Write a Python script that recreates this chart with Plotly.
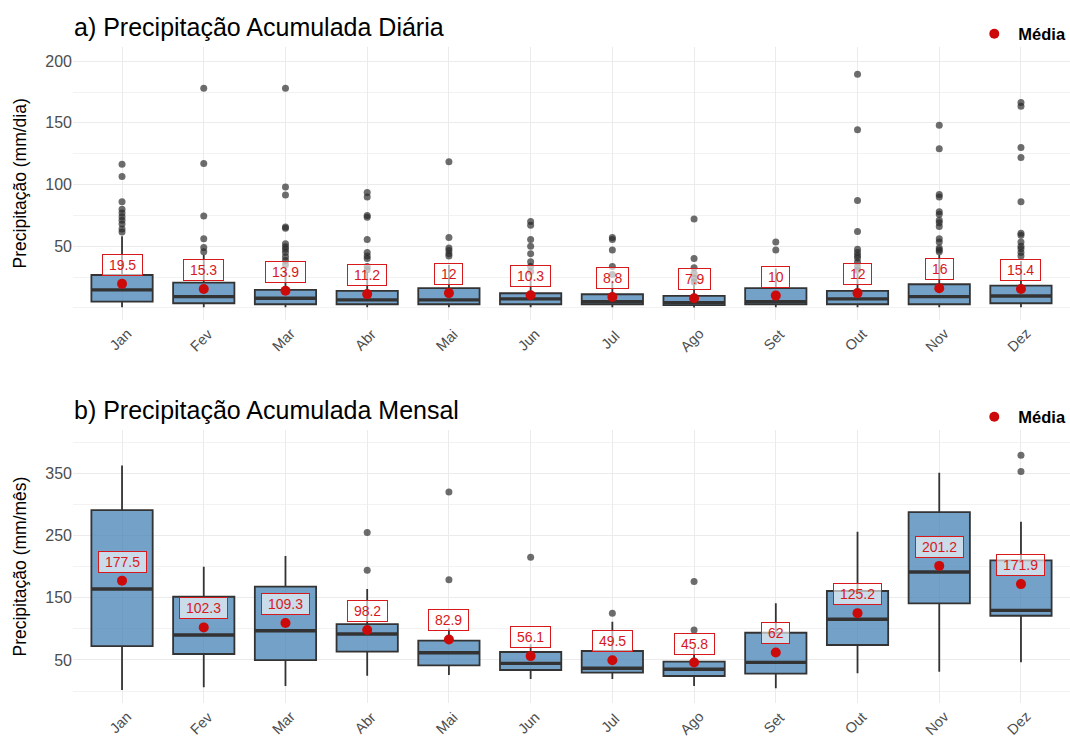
import plotly.graph_objects as go

months = ["Jan", "Fev", "Mar", "Abr", "Mai", "Jun", "Jul", "Ago", "Set", "Out", "Nov", "Dez"]

# a) precipitação diária (mm/dia) - estatísticas do boxplot
d_q1 = [5.1, 3.8, 3.0, 3.0, 3.0, 3.0, 3.0, 2.2, 3.0, 3.0, 3.0, 3.8]
d_med = [14.6, 9.2, 7.9, 6.5, 6.5, 7.3, 5.1, 4.3, 5.1, 7.3, 9.2, 9.7]
d_q3 = [26.7, 20.5, 14.6, 13.8, 16.0, 11.9, 11.1, 9.7, 16.0, 13.8, 19.2, 18.0]
d_lo = [0.6, 0.5, 0.5, 0.5, 0.5, 0.5, 0.5, 0.4, 0.5, 0.5, 0.5, 0.6]
d_hi = [58.0, 43.0, 31.0, 29.0, 35.0, 25.0, 22.0, 19.0, 32.0, 28.0, 43.0, 38.0]
d_mean = [19.5, 15.3, 13.9, 11.2, 12, 10.3, 8.8, 7.9, 10, 12, 16, 15.4]
d_out = [
    [116.5, 106.5, 86, 80, 77, 74, 71, 68, 64, 61.5],
    [178, 117, 74.5, 56, 49, 45.5],
    [178, 98, 91.5, 65.5, 64.5, 52, 49.5, 47.5, 45, 41.5, 38.5, 35],
    [93.5, 90, 75, 73.5, 55.5, 45, 42, 40, 33.5, 31],
    [118.5, 57, 48.5, 46.5, 44, 42],
    [70, 67, 55.5, 50, 44, 37.5, 33.5, 29.5],
    [57, 55.5, 47, 33.5, 27],
    [72, 40, 32.5, 28, 24, 21],
    [53.5, 47],
    [189.5, 144.5, 87, 62, 47.5, 45, 42.5, 40.5, 37, 33.5, 30.5],
    [148, 129, 92, 90, 78, 76, 71, 69, 66, 56, 53.5, 48.5, 47, 45.5],
    [166.5, 163.5, 130, 122, 86, 60.5, 59, 53.5, 50, 48, 45, 42],
]

# b) precipitação mensal (mm/mês)
m_q1 = [72.3, 59.5, 49.8, 63.2, 41.3, 33.8, 29.4, 24.1, 27.8, 74.0, 141.0, 121.0]
m_med = [164.0, 90.0, 97.0, 91.6, 61.6, 44.5, 36.5, 34.9, 46.1, 115.3, 191.3, 129.7]
m_q3 = [291.0, 151.6, 167.7, 107.7, 80.9, 62.7, 64.3, 47.1, 93.7, 160.8, 287.8, 210.1]
m_lo = [1.6, 6.0, 8.0, 24.6, 25.7, 19.3, 19.3, 8.0, 4.3, 28.4, 31.0, 46.1]
m_hi = [362.8, 199.8, 217.0, 164.0, 101.0, 75.0, 111.4, 68.0, 141.0, 256.0, 351.0, 272.2]
m_mean = [177.5, 102.3, 109.3, 98.2, 82.9, 56.1, 49.5, 45.8, 62, 125.2, 201.2, 171.9]
m_out = [[], [], [], [255, 194], [320, 179], [215], [125], [176, 98], [], [], [], [379, 353]]

FONT = "Liberation Sans, Arial, sans-serif"
BOX_W = 0.75
RED = "#CC0A0A"
pos = list(range(len(months)))

fig = go.Figure()


def add_panel(xa, ya, q1, med, q3, lo, hi, means, outs, leg, ybottom, ytop, ytitle):
    fig.add_trace(go.Box(
        x=pos, q1=q1, median=med, q3=q3, lowerfence=lo, upperfence=hi,
        width=BOX_W, whiskerwidth=0, boxpoints=False,
        fillcolor="rgba(70,130,180,0.75)", line=dict(color="#333333", width=1.8),
        xaxis=xa, yaxis=ya, showlegend=False, hoverinfo="skip",
    ))
    # median mais grossa, como no ggplot
    mx, my = [], []
    for i, m in zip(pos, med):
        mx += [i - BOX_W / 2, i + BOX_W / 2, None]
        my += [m, m, None]
    fig.add_trace(go.Scatter(x=mx, y=my, mode="lines", line=dict(color="#333333", width=3.4),
                             xaxis=xa, yaxis=ya, showlegend=False, hoverinfo="skip"))
    ox, oy = [], []
    for i, vals in zip(pos, outs):
        ox += [i] * len(vals)
        oy += vals
    fig.add_trace(go.Scatter(x=ox, y=oy, mode="markers",
                             marker=dict(color="rgba(40,40,40,0.68)", size=7),
                             xaxis=xa, yaxis=ya, showlegend=False, hoverinfo="skip"))
    fig.add_trace(go.Scatter(x=pos, y=means, mode="markers", name="Média",
                             marker=dict(color=RED, size=10),
                             xaxis=xa, yaxis=ya, legend=leg, showlegend=True))
    for i, v in zip(pos, means):
        fig.add_annotation(x=i, y=v, xref=xa, yref=ya, yshift=19,
                           text="\u00a0" + f"{v:g}" + "\u00a0", showarrow=False,
                           font=dict(family=FONT, size=14, color="#D7191C"),
                           bgcolor="rgba(255,255,255,0.62)", bordercolor="#D7191C",
                           borderwidth=1, borderpad=2)
    # rótulos do eixo x centrados e inclinados
    for i, m in zip(pos, months):
        fig.add_annotation(x=i, y=ybottom, xref=xa, yref="paper", yshift=-20, xshift=-2,
                           text=m, textangle=-45, showarrow=False,
                           xanchor="center", yanchor="middle",
                           font=dict(family=FONT, size=14.5, color="#4D4D4D"))
    # título do eixo y
    fig.add_annotation(x=-0.0532, y=(ybottom + ytop) / 2,
                       xref="paper", yref="paper", text=ytitle, textangle=-90,
                       showarrow=False, xanchor="center", yanchor="middle",
                       font=dict(family=FONT, size=17.5, color="black"))


add_panel("x", "y", d_q1, d_med, d_q3, d_lo, d_hi, d_mean, d_out, "legend", 0.584, 1.0,
          "Precipitação (mm/dia)")
add_panel("x2", "y2", m_q1, m_med, m_q3, m_lo, m_hi, m_mean, m_out, "legend2", 0.0, 0.416,
          "Precipitação (mm/mês)")

xcommon = dict(tickmode="array", tickvals=pos, showticklabels=False,
               range=[-0.6, 11.6], showgrid=True, gridcolor="#EBEBEB", gridwidth=1.1,
               zeroline=False, showline=False, ticks="", automargin=False)
ycommon = dict(showgrid=True, gridcolor="#EBEBEB", gridwidth=1.1, zeroline=False,
               showline=False, ticks="", automargin=False,
               tickfont=dict(family=FONT, size=16, color="#4D4D4D"))

legend_font = dict(family=FONT, size=16.5, color="black", weight="bold")

fig.update_layout(
    width=1070, height=738,
    paper_bgcolor="white", plot_bgcolor="white",
    margin=dict(l=73, r=0, t=47, b=35, autoexpand=False),
    font=dict(family=FONT),
    xaxis=dict(xcommon, domain=[0, 1], anchor="y"),
    xaxis2=dict(xcommon, domain=[0, 1], anchor="y2"),
    yaxis=dict(ycommon, domain=[0.584, 1], anchor="x", range=[-9.7, 211.5],
               tickmode="array", tickvals=[50, 100, 150, 200],
               minor=dict(tickmode="array", tickvals=[0, 25, 75, 125, 175],
                          showgrid=True, gridcolor="#F2F2F2", gridwidth=0.6)),
    yaxis2=dict(ycommon, domain=[0, 0.416], anchor="x2", range=[-19.3, 419.6],
                tickmode="array", tickvals=[50, 150, 250, 350],
                minor=dict(tickmode="array", tickvals=[0, 100, 200, 300, 400],
                           showgrid=True, gridcolor="#F2F2F2", gridwidth=0.6)),
    legend=dict(x=0.9, xanchor="left", y=1.0198, yanchor="middle", bgcolor="rgba(0,0,0,0)",
                itemwidth=38, font=legend_font),
    legend2=dict(x=0.9, xanchor="left", y=0.436, yanchor="middle", bgcolor="rgba(0,0,0,0)",
                 itemwidth=38, font=legend_font),
)

fig.add_annotation(text="a) Precipitação Acumulada Diária", xref="paper", yref="paper",
                   x=-0.001, y=1.0305, xanchor="left", yanchor="middle", showarrow=False,
                   font=dict(family=FONT, size=25, color="black"))
fig.add_annotation(text="b) Precipitação Acumulada Mensal", xref="paper", yref="paper",
                   x=-0.001, y=0.4466, xanchor="left", yanchor="middle", showarrow=False,
                   font=dict(family=FONT, size=25, color="black"))

# sem a margem padrão do <body>, a figura ocupa a janela inteira
fig.write_html("out.html", config={"displayModeBar": False},
               post_script="document.body.style.margin='0';")
